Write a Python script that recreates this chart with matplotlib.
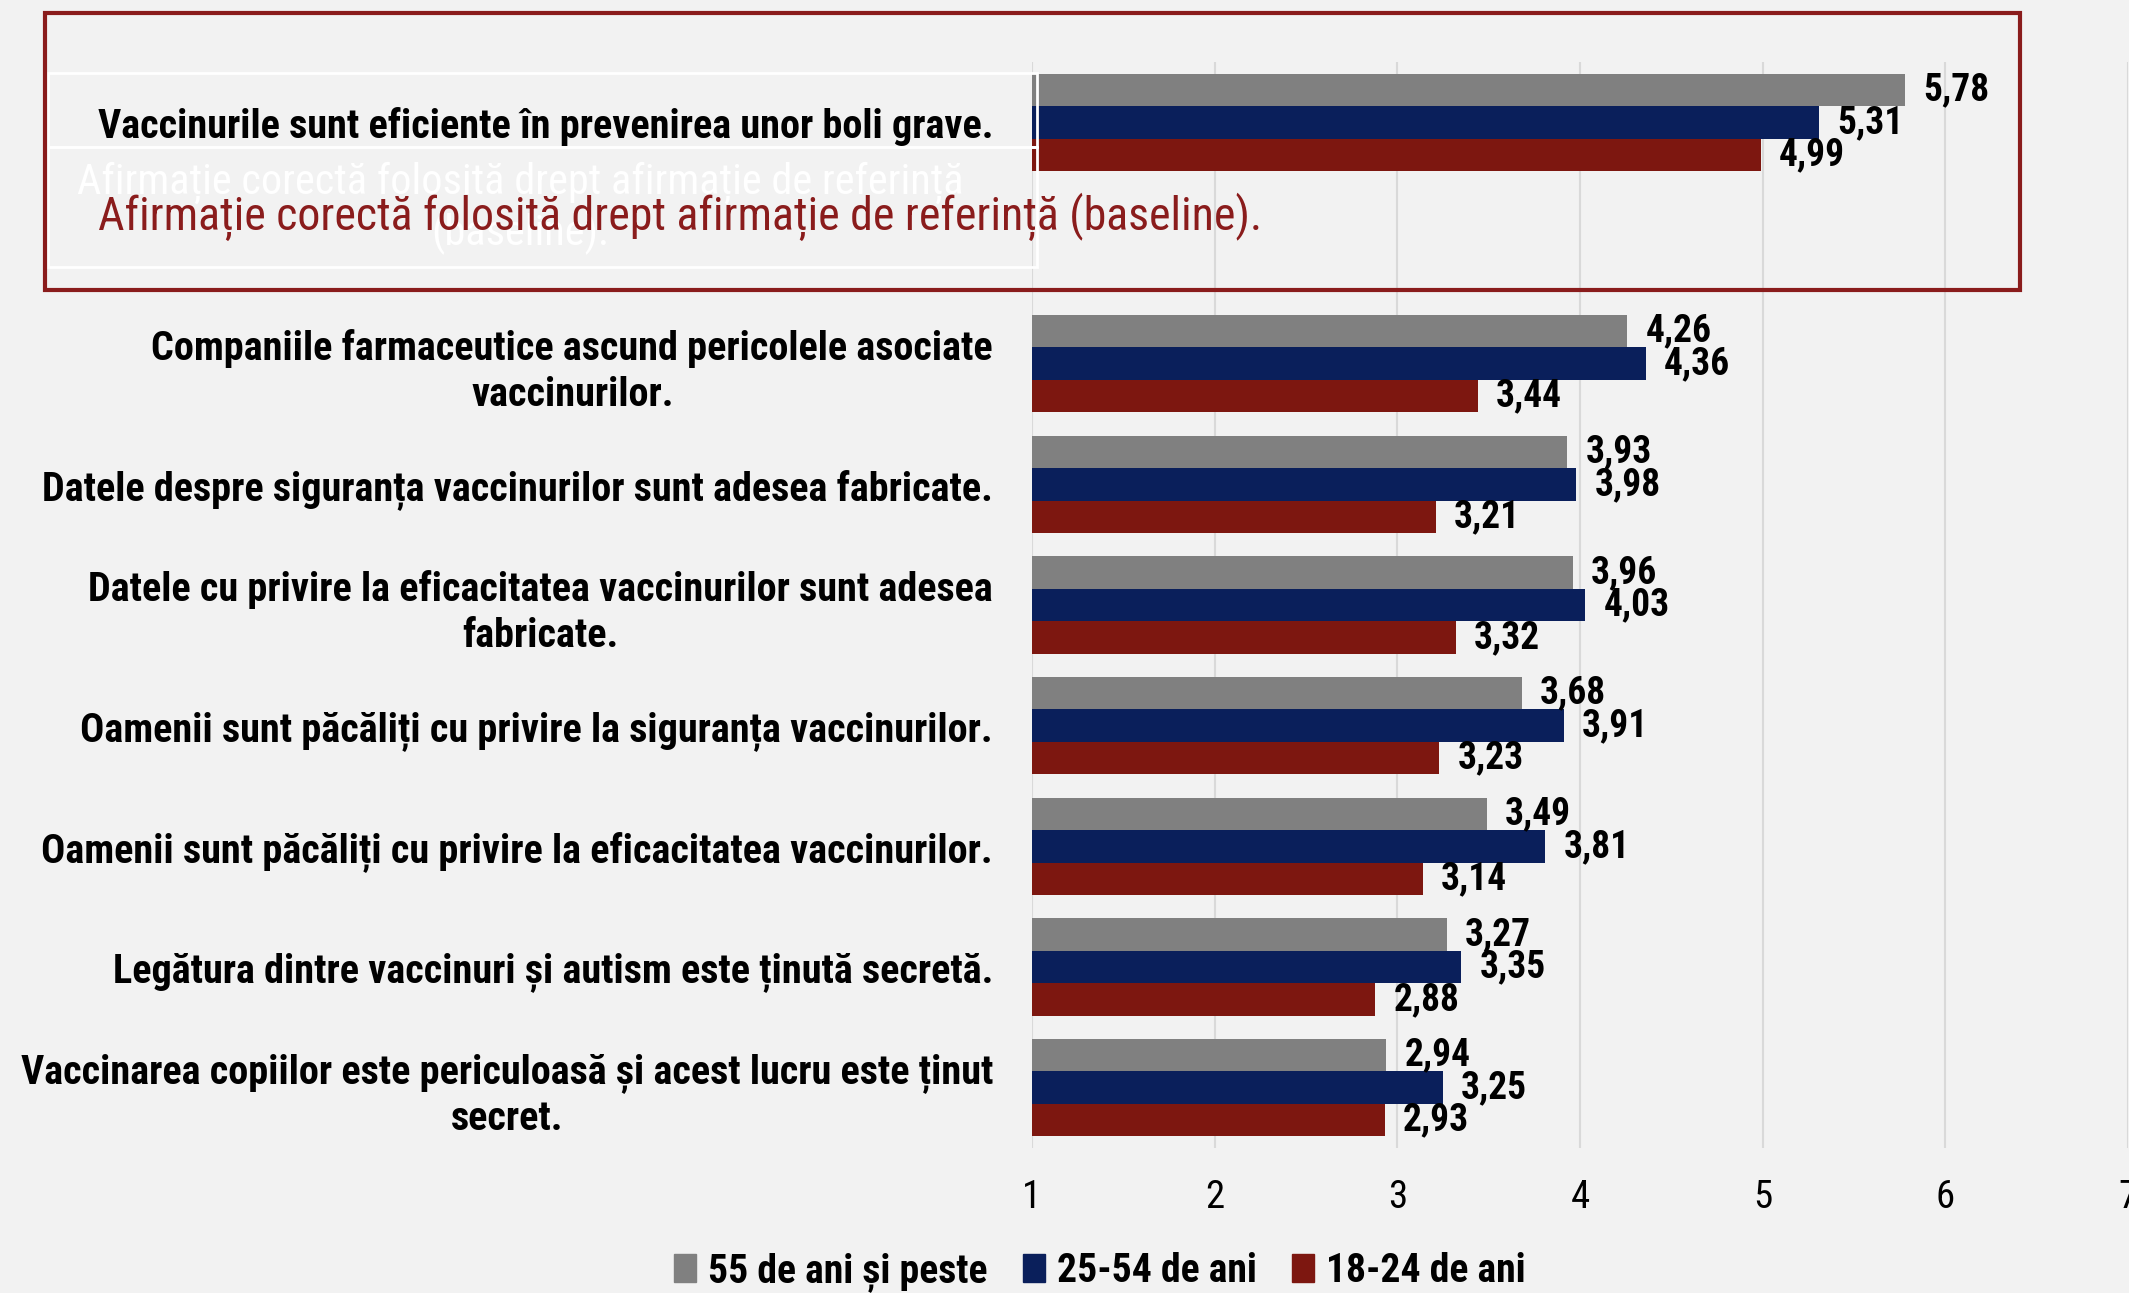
import numpy as np
import matplotlib
matplotlib.use("Agg")
import matplotlib.pyplot as plt
import matplotlib.transforms as mtransforms
from matplotlib import font_manager
from matplotlib.patches import Patch, Rectangle

# --- data -------------------------------------------------------------
statements = [
    "Vaccinurile sunt eficiente în prevenirea unor boli grave.",
    "",  # rând gol sub afirmația de referință
    "Companiile farmaceutice ascund pericolele asociate\nvaccinurilor.",
    "Datele despre siguranța vaccinurilor sunt adesea fabricate.",
    "Datele cu privire la eficacitatea vaccinurilor sunt adesea\nfabricate.",
    "Oamenii sunt păcăliți cu privire la siguranța vaccinurilor.",
    "Oamenii sunt păcăliți cu privire la eficacitatea vaccinurilor.",
    "Legătura dintre vaccinuri și autism este ținută secretă.",
    "Vaccinarea copiilor este periculoasă și acest lucru este ținut\nsecret.",
]
age_groups = ["55 de ani și peste", "25-54 de ani", "18-24 de ani"]
v_55plus = [5.78, np.nan, 4.26, 3.93, 3.96, 3.68, 3.49, 3.27, 2.94]
v_25_54 = [5.31, np.nan, 4.36, 3.98, 4.03, 3.91, 3.81, 3.35, 3.25]
v_18_24 = [4.99, np.nan, 3.44, 3.21, 3.32, 3.23, 3.14, 2.88, 2.93]
x_ticks = [1, 2, 3, 4, 5, 6, 7]
baseline_note = "Afirmație corectă folosită drept afirmație de referință (baseline)."
baseline_label = "Afirmație corectă folosită drept afirmație de referință\n(baseline)."

colors = ["#808080", "#0A1F5B", "#7D1710"]
bg = "#F2F2F2"
box_red = "#8A1C1C"

# --- fonts ------------------------------------------------------------
_names = {f.name for f in font_manager.fontManager.ttflist}
narrow = next((n for n in ["Liberation Sans Narrow", "Roboto Condensed", "Open Sans Condensed"]
               if n in _names), "Liberation Sans")
plt.rcParams["font.family"] = [narrow, "DejaVu Sans"]

FS = 29

fig = plt.figure(figsize=(21.29, 12.93), dpi=100, facecolor=bg)
W, H = 2129, 1293
ax = fig.add_axes([1032 / W, 1 - 1148 / H, (2128 - 1032) / W, (1148 - 62) / H])
ax.set_facecolor(bg)

y = np.arange(len(statements))
h = 0.2687
series = [v_55plus, v_25_54, v_18_24]
for i, (vals, col, name) in enumerate(zip(series, colors, age_groups)):
    bars = ax.barh(y + (i - 1) * h, vals, height=h, color=col, label=name, zorder=2)
    labels = ["" if np.isnan(v) else f"{v:.2f}".replace(".", ",") for v in vals]
    ax.bar_label(bars, labels=labels, padding=13, fontsize=27, fontweight="bold", color="black")

ax.set_xlim(1, 7)
ax.set_ylim(len(statements) - 0.5, -0.5)
ax.set_xticks(x_ticks)
ax.set_xticklabels([str(t) for t in x_ticks])
ax.set_yticks(y)
ax.set_yticklabels(statements, fontsize=FS, fontweight="bold", linespacing=1.25)
shift_up = mtransforms.ScaledTranslation(0, 6 / 100, fig.dpi_scale_trans)
for t in ax.get_yticklabels():
    t.set_multialignment("center")
    t.set_transform(t.get_transform() + shift_up)
ax.tick_params(axis="x", length=0, pad=22, labelsize=28)
ax.tick_params(axis="y", length=0, pad=28)
ax.grid(axis="x", color="#D9D9D9", lw=1.5, zorder=0)
ax.set_axisbelow(True)
for s in ax.spines.values():
    s.set_visible(False)

# casete de text ale afirmației de referință
for (x0, y0, x1, y1) in [(48, 73, 1037, 147), (48, 147, 1037, 267)]:
    fig.add_artist(Rectangle((x0 / W, 1 - y1 / H), (x1 - x0) / W, (y1 - y0) / H,
                             transform=fig.transFigure, fill=False, ec="white", lw=2, zorder=3))
fig.text(520 / W, 1 - 208 / H, baseline_label, ha="center", va="center", color="white",
         fontsize=30.5, linespacing=1.2, zorder=4)
fig.text(98 / W, 1 - 217 / H, baseline_note, ha="left", va="center", color=box_red,
         fontsize=33, zorder=6)
fig.add_artist(Rectangle((45 / W, 1 - 290 / H), (2020 - 45) / W, (290 - 13) / H,
                         transform=fig.transFigure, fill=False, ec=box_red, lw=3, zorder=5))

handles = [Patch(color=c, label=n) for c, n in zip(colors, age_groups)]
fig.legend(handles=handles, loc="center", bbox_to_anchor=(1100 / W, 1 - 1272 / H), ncol=3,
           frameon=False, prop={"size": 28.5, "weight": "bold"}, handlelength=0.55,
           handleheight=0.7, handletextpad=0.3, columnspacing=0.9, borderpad=0)

fig.savefig("out.png", dpi=100, facecolor=bg)
